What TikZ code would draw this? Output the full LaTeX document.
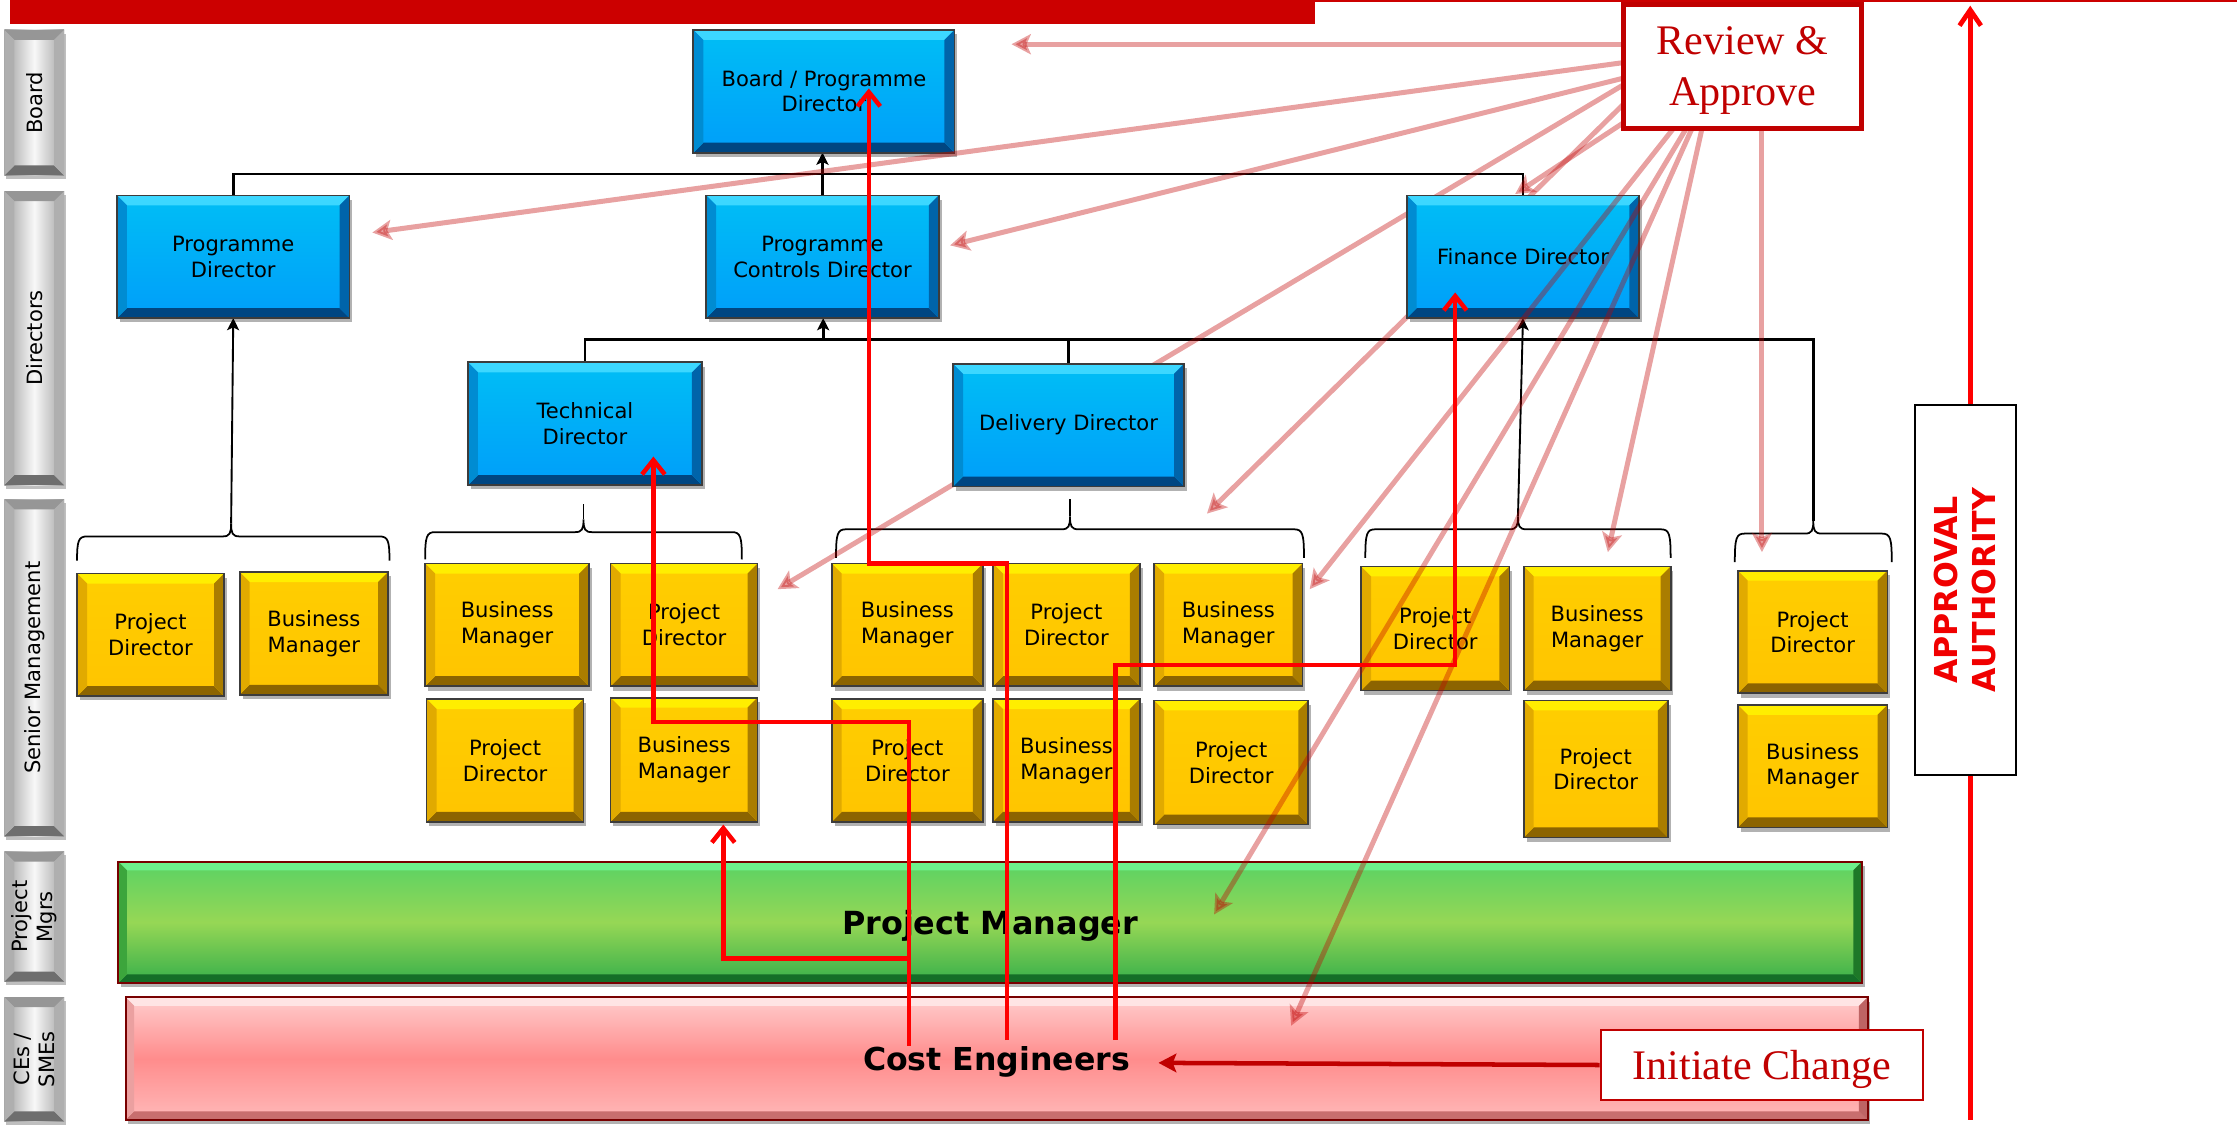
\documentclass[tikz,border=0pt]{standalone}
\usepackage{fontspec}
\newfontfamily\vf{DejaVu Sans}
\newfontfamily\tf{Liberation Serif}
\usetikzlibrary{arrows.meta,shadows}
\pgfdeclarelayer{bg}
\pgfdeclarelayer{fg}
\pgfsetlayers{bg,main,fg}
\definecolor{barred}{RGB}{204,0,0}
\definecolor{revred}{RGB}{192,0,0}
\definecolor{aprred}{RGB}{240,0,0}
\definecolor{routered}{RGB}{255,0,0}
\definecolor{blueT}{RGB}{0,190,245}
\definecolor{blueB}{RGB}{0,158,250}
\definecolor{bluBevT}{RGB}{60,215,255}
\definecolor{bluBevB}{RGB}{0,70,130}
\definecolor{bluBevL}{RGB}{0,140,210}
\definecolor{bluBevR}{RGB}{0,100,170}
\definecolor{yelT}{RGB}{255,206,0}
\definecolor{yelB}{RGB}{255,196,0}
\definecolor{yelBevT}{RGB}{255,238,0}
\definecolor{yelBevB}{RGB}{140,100,0}
\definecolor{yelBevL}{RGB}{225,170,0}
\definecolor{yelBevR}{RGB}{170,125,0}
\definecolor{grnT}{RGB}{90,210,100}
\definecolor{grnM}{RGB}{150,215,85}
\definecolor{grnB}{RGB}{55,175,75}
\definecolor{grnBevT}{RGB}{110,240,140}
\definecolor{grnBevB}{RGB}{20,110,40}
\definecolor{grnBevL}{RGB}{60,165,60}
\definecolor{grnBevR}{RGB}{30,120,40}
\definecolor{pnkT}{RGB}{255,205,205}
\definecolor{pnkM}{RGB}{255,140,140}
\definecolor{pnkB}{RGB}{255,185,185}
\definecolor{pnkBevT}{RGB}{255,228,228}
\definecolor{pnkBevB}{RGB}{200,110,110}
\definecolor{pnkBevL}{RGB}{235,160,160}
\definecolor{pnkBevR}{RGB}{190,100,100}
\definecolor{grayE}{RGB}{160,160,160}
\definecolor{grayM}{RGB}{248,248,248}
\definecolor{grayBevT}{RGB}{150,150,150}
\definecolor{grayBevB}{RGB}{110,110,110}
\definecolor{grayBevS}{RGB}{175,175,175}
\definecolor{edgedk}{RGB}{60,60,60}
\definecolor{barbrd}{RGB}{120,0,0}

\newcommand{\bevelfill}[5]{%
\fill[#2] (path picture bounding box.north west) -- (path picture bounding box.north east) -- ([shift={(-#1,-#1)}]path picture bounding box.north east) -- ([shift={(#1,-#1)}]path picture bounding box.north west) -- cycle;
\fill[#3] (path picture bounding box.south west) -- (path picture bounding box.south east) -- ([shift={(-#1,#1)}]path picture bounding box.south east) -- ([shift={(#1,#1)}]path picture bounding box.south west) -- cycle;
\fill[#4] (path picture bounding box.north west) -- ([shift={(#1,-#1)}]path picture bounding box.north west) -- ([shift={(#1,#1)}]path picture bounding box.south west) -- (path picture bounding box.south west) -- cycle;
\fill[#5] (path picture bounding box.north east) -- ([shift={(-#1,-#1)}]path picture bounding box.north east) -- ([shift={(-#1,#1)}]path picture bounding box.south east) -- (path picture bounding box.south east) -- cycle;}

\newcommand{\bx}[7]{\node[#1, minimum width={(#5-#3)*0.02cm}, minimum height={(#6-#4)*0.02cm}] (#2) at ({(#3+#5)/2},{(#4+#6)/2}) {#7};}

\newcommand{\hbr}[6]{%
\draw[brc] (#2,#6) .. controls (#2,#5+3) and (#2+1,#5) .. (#2+7,#5) -- (#4-6,#5) .. controls (#4-1,#5) and (#4,#5-2) .. (#4,#5-9) .. controls (#4,#5-2) and (#4+1,#5) .. (#4+6,#5) -- (#3-7,#5) .. controls (#3-1,#5) and (#3,#5+3) .. (#3,#6);
\coordinate (#1) at (#4,#5-9);}

\begin{document}
\begin{tikzpicture}[x=0.02cm,y=-0.02cm,
  boxbase/.style={inner sep=0pt, outer sep=0pt, align=center, line width=0.7pt, draw=edgedk,
    drop shadow={shadow xshift=0.04cm,shadow yshift=-0.06cm,opacity=0.3,fill=black},
    font=\vf\fontsize{8.4}{10.2}\selectfont},
  bluebox/.style={boxbase, top color=blueT, bottom color=blueB,
    path picture={\bevelfill{0.14cm}{bluBevT}{bluBevB}{bluBevL}{bluBevR}}},
  yelbox/.style={boxbase, top color=yelT, bottom color=yelB,
    path picture={\bevelfill{0.14cm}{yelBevT}{yelBevB}{yelBevL}{yelBevR}}},
  grnbar/.style={boxbase, draw=barbrd, line width=0.8pt, top color=grnT, bottom color=grnB, middle color=grnM,
    path picture={\bevelfill{0.12cm}{grnBevT}{grnBevB}{grnBevL}{grnBevR}},
    text depth=0pt, font=\vf\bfseries\fontsize{12.7}{15}\selectfont},
  pnkbar/.style={boxbase, draw=barbrd, line width=0.8pt, top color=pnkT, bottom color=pnkB, middle color=pnkM,
    path picture={\bevelfill{0.12cm}{pnkBevT}{pnkBevB}{pnkBevL}{pnkBevR}},
    text depth=0pt, font=\vf\bfseries\fontsize{12.6}{15}\selectfont},
  graybar/.style={inner sep=0pt, outer sep=0pt, draw=none, left color=grayE, right color=grayE, middle color=grayM,
    drop shadow={shadow xshift=0.03cm,shadow yshift=-0.05cm,opacity=0.25,fill=black},
    path picture={\bevelfill{0.14cm}{grayBevT}{grayBevB}{grayBevS}{grayBevS}}},
  lbl/.style={rotate=90, align=center, inner sep=0pt, font=\vf\fontsize{8.4}{10}\selectfont},
  revbox/.style={inner sep=0pt, draw=revred, line width=2pt, fill=white, text=revred, align=center,
    text depth=0pt, font=\tf\fontsize{16.8}{20.4}\selectfont},
  initbox/.style={inner sep=0pt, draw=revred, line width=0.9pt, fill=white, text=revred, align=center,
    text depth=0pt, font=\tf\fontsize{16.8}{20.4}\selectfont},
  apbox/.style={inner sep=0pt, draw=black, line width=0.8pt, fill=white, text=aprred, align=center, rotate=90,
    font=\vf\bfseries\fontsize{12.6}{15.3}\selectfont},
  brc/.style={line width=0.7pt, black},
  blk/.style={line width=1.1pt, black},
  blkarr/.style={blk, -{Stealth[length=0.17cm,width=0.17cm,inset=0.04cm]}},
  blkthin/.style={line width=0.75pt, black},
  blkthinarr/.style={blkthin, -{Stealth[length=0.17cm,width=0.17cm,inset=0.04cm]}},
  pinkarr/.style={line width=2pt, revred, opacity=0.37, -{Stealth[length=0.27cm,width=0.28cm,inset=0.06cm]}},
  routearr/.style={line width=1.8pt, routered, -{Straight Barb[length=0.2cm,width=0.32cm]}},
  initarr/.style={line width=1.8pt, revred, -{Stealth[length=0.25cm,width=0.26cm,inset=0.05cm]}},
  apparr/.style={line width=1.9pt, routered, -{Straight Barb[length=0.22cm,width=0.3cm]}}
]
\useasboundingbox (0,0) rectangle (1568,790.7);

% top red band
\fill[barred] (7,0) rectangle (922,16.5);
\fill[barred] (922,0) rectangle (1568,1.5);

% side labels
\bx{graybar}{lbBoard}{3}{21}{45}{123}{}
\bx{graybar}{lbDir}{3}{134}{45}{340}{}
\bx{graybar}{lbSen}{3}{350}{45}{586}{}
\bx{graybar}{lbPM}{3}{597}{45}{688}{}
\bx{graybar}{lbCE}{3}{699}{45}{786}{}
\node[lbl] (tBoard) at (lbBoard) {Board};
\node[lbl] (tDir) at (lbDir) {Directors};
\node[lbl] (tSen) at (lbSen) {Senior Management};
\node[lbl] (tPM) at (lbPM) {Project\\Mgrs};
\node[lbl] (tCE) at (lbCE) {CEs /\\SMEs};

% bottom bars
\bx{grnbar}{pm}{83}{604}{1305}{689}{Project Manager}
\bx{pnkbar}{ce}{88}{699}{1309}{785}{Cost Engineers}

% blue boxes
\bx{bluebox}{board}{486}{21}{669}{107}{Board / Programme\\Director}
\bx{bluebox}{pd}{82}{137}{245}{223}{Programme\\Director}
\bx{bluebox}{pcd}{495}{137}{658}{223}{Programme\\Controls Director}
\bx{bluebox}{fd}{986}{137}{1149}{223}{Finance Director}
\bx{bluebox}{td}{328}{254}{492}{340}{Technical\\Director}
\bx{bluebox}{dd}{668}{255}{830}{341}{Delivery Director}

% yellow boxes
\bx{yelbox}{ya1}{54}{402}{157}{488}{Project\\Director}
\bx{yelbox}{ya2}{168}{401}{272}{487}{Business\\Manager}
\bx{yelbox}{yb1}{298}{395}{413}{481}{Business\\Manager}
\bx{yelbox}{yb2}{428}{395}{531}{481}{Project\\Director}
\bx{yelbox}{yb3}{299}{490}{409}{576}{Project\\Director}
\bx{yelbox}{yb4}{428}{489}{531}{576}{Business\\Manager}
\bx{yelbox}{yc1}{583}{395}{689}{481}{Business\\Manager}
\bx{yelbox}{yc2}{696}{395}{799}{481}{Project\\Director}
\bx{yelbox}{yc3}{809}{395}{913}{481}{Business\\Manager}
\bx{yelbox}{yc4}{583}{490}{689}{576}{Project\\Director}
\bx{yelbox}{yc5}{696}{490}{799}{576}{Business\\Manager}
\bx{yelbox}{yc6}{809}{491}{917}{578}{Project\\Director}
\bx{yelbox}{yd1}{954}{397}{1058}{484}{Project\\Director}
\bx{yelbox}{yd2}{1068}{397}{1171}{484}{Business\\Manager}
\bx{yelbox}{yd3}{1068}{491}{1169}{587}{Project\\Director}
\bx{yelbox}{ye1}{1218}{400}{1323}{486}{Project\\Director}
\bx{yelbox}{ye2}{1218}{494}{1323}{580}{Business\\Manager}

% review / initiate boxes
\bx{revbox}{rev}{1138}{3}{1305}{90}{Review \&\\Approve}
\bx{initbox}{init}{1122}{722}{1348}{771}{Initiate Change}

% connectors behind boxes
\begin{pgfonlayer}{bg}
\hbr{g1tip}{54}{273}{162}{376}{393}
\hbr{g2tip}{298}{520}{409}{373}{392}
\hbr{g3tip}{586}{914}{750}{371}{391}
\hbr{g4tip}{957}{1171}{1064}{371}{391}
\hbr{g5tip}{1216}{1326}{1271}{374}{394}
\coordinate (lvl1) at (577,122);
\coordinate (lvl2) at (577,238);
\coordinate (g2stub) at (409,353);
\coordinate (g3stub) at (750,350);
\draw[blk] (pd.north) |- (lvl1) -| (fd.north);
\draw[blkarr] (pcd.north) -- (pcd.north |- board.south);
\draw[blk] (td.north) |- (lvl2) -| (g5tip);
\draw[blk] (dd.north) -- (dd.north |- lvl2);
\draw[blkarr] (lvl2) -- (lvl2 |- pcd.south);
\draw[blkthinarr] (g1tip) -- (pd.south);
\draw[blkthinarr] (g4tip) -- (fd.south);
\draw[blkthin] (g2tip) -- (g2stub);
\draw[blkthin] (g3tip) -- (g3stub);
% pink arrows passing behind boxes
\coordinate (pd0) at (1137,60); \coordinate (pd1) at (545,413);
\coordinate (pe0) at (1138,73); \coordinate (pe1) at (846,360);
\coordinate (pf0) at (1138,86); \coordinate (pf1) at (1062,136);
\draw[pinkarr] (pd0) -- (pd1);
\draw[pinkarr] (pe0) -- (pe1);
\draw[pinkarr] (pf0) -- (pf1);
\end{pgfonlayer}

% pink arrows in front
\coordinate (pa0) at (1137,31); \coordinate (pa1) at (709,31);
\coordinate (pb0) at (1137,44); \coordinate (pb1) at (261,163);
\coordinate (pc0) at (1137,55); \coordinate (pc1) at (666,172);
\coordinate (pg0) at (1173,90); \coordinate (pg1) at (918,413);
\coordinate (ph0) at (1182,90); \coordinate (ph1) at (851,641);
\coordinate (pi0) at (1186,90); \coordinate (pi1) at (905,719);
\coordinate (pj0) at (1193,90); \coordinate (pj1) at (1127,387);
\coordinate (pk0) at (1235,90); \coordinate (pk1) at (1235,387);
\draw[pinkarr] (pa0) -- (pa1);
\draw[pinkarr] (pb0) -- (pb1);
\draw[pinkarr] (pc0) -- (pc1);
\draw[pinkarr] (pg0) -- (pg1);
\draw[pinkarr] (ph0) -- (ph1);
\draw[pinkarr] (pi0) -- (pi1);
\draw[pinkarr] (pj0) -- (pj1);
\draw[pinkarr] (pk0) -- (pk1);

% initiate change arrow
\coordinate (ceIn) at (812,745);
\draw[initarr] (init.west) -- (ceIn);

% approval authority
\coordinate (apB) at (1381,785);
\coordinate (apT) at (1381,4);
\draw[apparr] (apB) -- (apT);
\node[apbox, minimum width={259*0.02cm}, minimum height={71*0.02cm}] (ap) at (1377.5,413.5) {APPROVAL\\AUTHORITY};

% red routes
\begin{pgfonlayer}{fg}
\coordinate (rA0) at (637,733); \coordinate (rA1) at (458,320);
\coordinate (rB0) at (637,672); \coordinate (rB1) at (507,578);
\coordinate (rC0) at (706,729); \coordinate (rC1) at (609,62);
\coordinate (rD0) at (782,729); \coordinate (rD1) at (1020,205);
\draw[routearr] (rA0) -- (637,506) -| (rA1);
\draw[routearr] (rB0) -| (rB1);
\draw[routearr] (rC0) -- (706,395) -| (rC1);
\draw[routearr] (rD0) -- (782,466) -| (rD1);
\end{pgfonlayer}
\end{tikzpicture}
\end{document}
